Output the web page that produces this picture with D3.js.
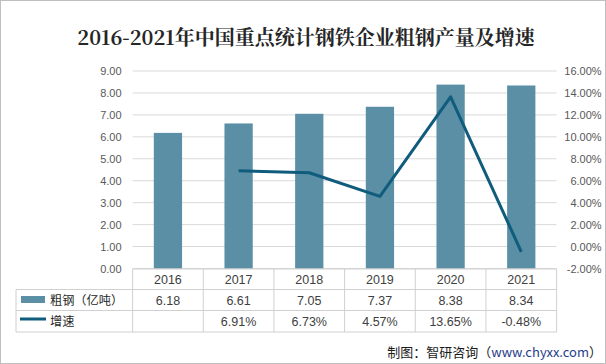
<!DOCTYPE html>
<html><head><meta charset="utf-8">
<script src="https://cdn.jsdelivr.net/npm/d3@7"></script>
<style>body{margin:0;background:#fff;}svg{display:block;font-family:"Noto Sans CJK SC","Microsoft YaHei",sans-serif;}</style>
</head><body>
<script>
const years = ["2016","2017","2018","2019","2020","2021"];
const steel = [6.18, 6.61, 7.05, 7.37, 8.38, 8.34];
const growth = [null, 6.91, 6.73, 4.57, 13.65, -0.48];
const leftTicks = [0,1,2,3,4,5,6,7,8,9];
const rightTicks = [-2,0,2,4,6,8,10,12,14,16];
const seriesNames = ["粗钢（亿吨）", "增速"];

const W = 606, H = 364;
const svg = d3.select("body").append("svg").attr("width", W).attr("height", H);
svg.append("rect").attr("x",0.5).attr("y",0.5).attr("width",W-1).attr("height",H-1).attr("fill","#fff").attr("stroke","#bfbfbf");

const x0 = 132.6, x1 = 556.6, yTop = 71, yBot = 268.5;
const x = d3.scaleBand().domain(years).range([x0, x1]).paddingInner(0.6).paddingOuter(0.3);
const xc = d3.scaleBand().domain(years).range([x0, x1]);
const yL = d3.scaleLinear().domain([0, 9]).range([yBot, yTop]);
const yR = d3.scaleLinear().domain([-2, 16]).range([yBot, yTop]);

svg.append("text").attr("x", 306).attr("y", 45).attr("text-anchor","middle")
  .attr("font-size", 20).attr("font-weight","bold").attr("fill","#262626")
  .attr("font-family","'Noto Serif CJK SC','Noto Sans CJK SC',serif")
  .text("2016-2021年中国重点统计钢铁企业粗钢产量及增速");

// gridlines
svg.append("g").selectAll("line").data(leftTicks).join("line")
  .attr("x1", x0).attr("x2", x1).attr("y1", d=>yL(d)).attr("y2", d=>yL(d))
  .attr("stroke","#d9d9d9").attr("stroke-width",1);

// left axis
const la = svg.append("g").attr("transform",`translate(${x0-11},0)`)
  .call(d3.axisLeft(yL).tickValues(leftTicks).tickFormat(d3.format(".2f")).tickSize(0).tickPadding(0));
la.select(".domain").remove();
la.selectAll("text").attr("font-size",11).attr("fill","#595959").attr("font-family","'Liberation Sans',Arial,sans-serif");

// right axis
const ra = svg.append("g").attr("transform",`translate(${x1+45},0)`)
  .call(d3.axisRight(yR).tickValues(rightTicks).tickFormat(d=>d.toFixed(2)+"%").tickSize(0).tickPadding(0));
ra.select(".domain").remove();
ra.selectAll("text").attr("text-anchor","end").attr("font-size",11).attr("fill","#595959").attr("font-family","'Liberation Sans',Arial,sans-serif");

// bars
const barColor = "#5b8fa6", lineColor = "#0f5c7c";
svg.append("g").selectAll("rect").data(steel).join("rect")
  .attr("x",(d,i)=>x(years[i])).attr("width",x.bandwidth())
  .attr("y",d=>yL(d)).attr("height",d=>yL(0)-yL(d)).attr("fill",barColor);

// line
const pts = growth.map((g,i)=>({g, yr:years[i]})).filter(d=>d.g!==null);
svg.append("path").datum(pts)
  .attr("d", d3.line().x(d=>xc(d.yr)+xc.bandwidth()/2).y(d=>yR(d.g)))
  .attr("fill","none").attr("stroke",lineColor).attr("stroke-width",3).attr("stroke-linejoin","round");

// data table
const rows = [269, 289.5, 310.5, 332];
const tg = svg.append("g").attr("stroke","#d0d0d0").attr("stroke-width",1);
tg.append("line").attr("x1",x0).attr("x2",x1).attr("y1",rows[0]).attr("y2",rows[0]);
[1,2,3].forEach(i=>tg.append("line").attr("x1",16).attr("x2",x1).attr("y1",rows[i]).attr("y2",rows[i]));
tg.append("line").attr("x1",16).attr("x2",16).attr("y1",rows[1]).attr("y2",rows[3]);
years.concat(["end"]).forEach((yv,i)=>{
  const xx = x0 + i*xc.bandwidth();
  tg.append("line").attr("x1",xx).attr("x2",xx).attr("y1",rows[0]).attr("y2",rows[3]);
});

const tf = "'Liberation Sans',Arial,sans-serif";
const tt = svg.append("g").attr("font-size",12.5).attr("fill","#404040").attr("text-anchor","middle").attr("font-family",tf);
years.forEach((yv,i)=>{
  const cx = xc(yv)+xc.bandwidth()/2;
  tt.append("text").attr("x",cx).attr("y",(rows[0]+rows[1])/2+4.5).text(yv);
  tt.append("text").attr("x",cx).attr("y",(rows[1]+rows[2])/2+4.5).text(steel[i].toFixed(2));
  if (growth[i]!==null) tt.append("text").attr("x",cx).attr("y",(rows[2]+rows[3])/2+4.5).text(growth[i].toFixed(2)+"%");
});

// legend in table
svg.append("rect").attr("x",21).attr("y",296).attr("width",24).attr("height",7).attr("fill",barColor);
svg.append("line").attr("x1",20).attr("x2",46).attr("y1",319).attr("y2",319).attr("stroke",lineColor).attr("stroke-width",3);
svg.append("text").attr("x",50).attr("y",(rows[1]+rows[2])/2+4.5).attr("font-size",12.2).attr("fill","#262626").text(seriesNames[0]);
svg.append("text").attr("x",50).attr("y",(rows[2]+rows[3])/2+4.5).attr("font-size",12.2).attr("fill","#262626").text(seriesNames[1]);

// footer
const ft = svg.append("text").attr("x",602).attr("y",357).attr("text-anchor","end").attr("font-size",13).attr("fill","#1a1a1a");
ft.append("tspan").text("制图：智研咨询（");
ft.append("tspan").attr("fill","#1f3d8a").text("www.chyxx.com");
ft.append("tspan").text("）");
</script>
</body></html>
